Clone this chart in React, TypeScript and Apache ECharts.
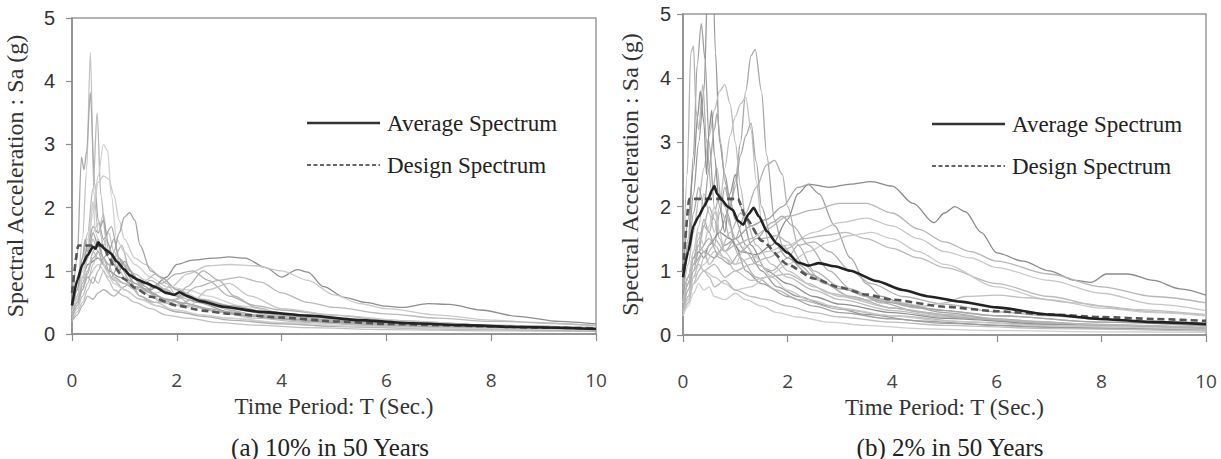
import React, { useEffect, useRef } from "react";
import * as echarts from "echarts";

// ---- (a) 10% in 50 years : individual ground-motion spectra [T (s), Sa (g)] ----
const recordsA: number[][][] = [
  [[0,0.3],[0.1,0.7],[0.2,1.5],[0.28,2.6],[0.35,4.45],[0.42,2.2],[0.5,1.6],[0.6,1.9],[0.7,1.3],[0.85,1.1],[1.0,0.9],[1.3,0.6],[1.6,0.5],[2.0,0.35],[2.5,0.3],[3,0.25],[4,0.17],[5,0.12],[6,0.1],[8,0.07],[10,0.05]],
  [[0,0.4],[0.1,1.2],[0.18,2.8],[0.23,2.6],[0.28,2.9],[0.35,3.82],[0.43,2.4],[0.5,1.8],[0.6,1.5],[0.75,1.7],[0.9,1.2],[1.1,1.0],[1.4,0.7],[1.8,0.55],[2.2,0.45],[2.8,0.35],[3.5,0.28],[4.5,0.2],[6,0.14],[8,0.1],[10,0.07]],
  [[0,0.35],[0.1,0.8],[0.2,1.2],[0.3,1.6],[0.4,2.3],[0.48,3.5],[0.55,2.2],[0.65,1.5],[0.8,1.2],[0.95,1.4],[1.1,1.0],[1.3,0.8],[1.6,0.75],[2.0,0.6],[2.4,0.5],[3,0.4],[4,0.28],[5,0.2],[6.5,0.14],[8,0.1],[10,0.08]],
  [[0,0.45],[0.1,0.9],[0.2,1.1],[0.3,1.5],[0.4,2.0],[0.5,2.5],[0.6,3.0],[0.68,2.9],[0.75,2.2],[0.85,1.5],[1.0,1.3],[1.2,1.1],[1.5,0.9],[1.8,0.75],[2.2,0.7],[2.6,0.6],[3.2,0.45],[4,0.32],[5,0.24],[6.5,0.16],[8,0.12],[10,0.09]],
  [[0,0.4],[0.1,0.7],[0.2,1.0],[0.3,1.4],[0.4,1.9],[0.5,2.4],[0.6,2.5],[0.7,2.45],[0.8,2.2],[0.9,1.8],[1.0,1.5],[1.2,1.2],[1.4,1.1],[1.7,0.9],[2.0,0.7],[2.5,0.55],[3,0.45],[4,0.3],[5,0.22],[7,0.14],[10,0.08]],
  [[0,0.3],[0.1,0.5],[0.2,0.8],[0.3,1.0],[0.4,1.2],[0.5,1.3],[0.6,1.1],[0.7,1.0],[0.8,1.3],[0.9,1.6],[1.0,1.85],[1.1,1.92],[1.2,1.8],[1.3,1.4],[1.5,1.0],[1.7,0.9],[2.0,0.7],[2.4,0.55],[3,0.45],[4,0.3],[5,0.22],[7,0.14],[10,0.09]],
  [[0,0.35],[0.1,0.6],[0.2,0.9],[0.3,1.1],[0.5,1.2],[0.7,1.0],[0.9,0.9],[1.2,0.75],[1.5,0.7],[1.8,0.9],[2.0,1.1],[2.3,1.17],[2.7,1.2],[3.0,1.22],[3.3,1.2],[3.7,1.05],[4.0,0.9],[4.3,1.02],[4.5,0.98],[4.8,0.75],[5.2,0.58],[5.6,0.5],[6.0,0.44],[6.3,0.42],[6.8,0.48],[7.2,0.47],[7.8,0.38],[8.5,0.28],[9.3,0.2],[10,0.16]],
  [[0,0.3],[0.1,0.5],[0.2,0.7],[0.3,0.9],[0.5,1.1],[0.7,0.9],[1.0,0.8],[1.3,0.7],[1.6,0.65],[1.9,0.75],[2.2,0.95],[2.6,1.08],[3.0,1.1],[3.5,1.08],[4.0,1.0],[4.5,0.85],[5.0,0.62],[5.5,0.48],[6,0.4],[7,0.3],[8,0.22],[9,0.17],[10,0.13]],
  [[0,0.3],[0.1,0.6],[0.2,0.9],[0.3,1.2],[0.4,1.5],[0.5,1.3],[0.7,1.1],[0.9,1.2],[1.1,0.95],[1.4,0.7],[1.7,0.8],[2.0,0.95],[2.3,1.0],[2.6,0.85],[3.0,0.6],[3.5,0.45],[4,0.38],[5,0.3],[6,0.22],[8,0.14],[10,0.1]],
  [[0,0.25],[0.1,0.4],[0.2,0.6],[0.3,0.8],[0.4,1.1],[0.5,1.3],[0.6,1.5],[0.7,1.2],[0.85,1.05],[1.0,1.1],[1.2,0.95],[1.4,0.85],[1.6,0.95],[1.8,0.8],[2.0,0.6],[2.3,0.45],[2.8,0.35],[3.5,0.25],[4.5,0.18],[6,0.12],[8,0.08],[10,0.06]],
  [[0,0.2],[0.1,0.35],[0.2,0.5],[0.3,0.7],[0.4,0.9],[0.5,0.8],[0.6,1.0],[0.7,0.85],[0.8,0.7],[1.0,0.6],[1.2,0.5],[1.5,0.4],[1.8,0.3],[2.2,0.25],[2.8,0.18],[3.5,0.14],[4.5,0.1],[6,0.07],[8,0.05],[10,0.04]],
  [[0,0.35],[0.1,0.7],[0.2,1.1],[0.3,1.4],[0.4,1.7],[0.5,1.6],[0.6,1.8],[0.7,1.4],[0.8,1.1],[0.9,1.0],[1.0,1.15],[1.2,0.9],[1.4,0.75],[1.6,0.6],[1.9,0.5],[2.1,0.62],[2.4,0.5],[3,0.35],[4,0.25],[5,0.18],[7,0.12],[10,0.07]],
  [[0,0.2],[0.1,0.3],[0.2,0.45],[0.3,0.6],[0.4,0.55],[0.5,0.65],[0.6,0.7],[0.8,0.6],[1.0,0.75],[1.2,0.9],[1.4,0.7],[1.7,0.5],[2.0,0.45],[2.3,0.55],[2.6,0.5],[3,0.38],[3.5,0.3],[4.5,0.22],[6,0.15],[8,0.1],[10,0.07]],
  [[0,0.3],[0.1,0.55],[0.2,0.85],[0.3,1.2],[0.4,1.6],[0.5,1.75],[0.6,1.4],[0.7,1.6],[0.8,1.3],[1.0,1.0],[1.2,0.8],[1.5,0.6],[1.8,0.5],[2.2,0.42],[2.6,0.7],[3.0,0.8],[3.4,0.6],[4,0.4],[5,0.3],[6.5,0.2],[8,0.14],[10,0.1]],
  [[0,0.25],[0.1,0.45],[0.2,0.7],[0.3,0.95],[0.4,1.3],[0.5,1.5],[0.6,1.2],[0.75,0.9],[0.9,1.1],[1.1,0.85],[1.3,0.6],[1.6,0.45],[2.0,0.35],[2.5,0.28],[3.0,0.22],[4,0.16],[5,0.12],[7,0.08],[10,0.05]],
  [[0,0.3],[0.1,0.5],[0.2,0.8],[0.3,1.0],[0.4,1.3],[0.5,1.2],[0.6,1.1],[0.8,0.85],[1.0,0.7],[1.3,0.55],[1.6,0.5],[2.0,0.55],[2.4,0.75],[2.8,0.85],[3.2,0.9],[3.6,0.82],[4.0,0.65],[4.5,0.5],[5,0.42],[6,0.32],[7,0.25],[8,0.2],[10,0.14]],
  [[0,0.35],[0.1,0.6],[0.2,0.9],[0.3,1.3],[0.35,1.8],[0.4,2.1],[0.45,1.6],[0.55,1.3],[0.65,1.0],[0.8,0.8],[1.0,0.7],[1.3,0.55],[1.6,0.45],[2.0,0.38],[2.5,0.3],[3,0.25],[4,0.18],[5.5,0.12],[7,0.09],[10,0.06]],
  [[0,0.4],[0.1,0.8],[0.2,1.2],[0.25,1.5],[0.3,1.3],[0.4,1.6],[0.5,1.4],[0.6,1.2],[0.7,1.3],[0.8,1.5],[0.9,1.2],[1.0,1.0],[1.2,0.8],[1.5,0.65],[1.8,0.55],[2.2,0.48],[2.6,0.4],[3.2,0.3],[4,0.24],[5,0.2],[6,0.18],[8,0.12],[10,0.09]],
  [[0,0.3],[0.1,0.5],[0.2,0.75],[0.3,0.9],[0.4,0.8],[0.5,1.0],[0.6,1.2],[0.7,1.1],[0.8,0.9],[1.0,0.8],[1.2,0.7],[1.5,0.85],[1.8,0.7],[2.0,0.6],[2.2,0.75],[2.5,1.0],[2.8,0.85],[3.1,0.6],[3.5,0.42],[4,0.33],[5,0.25],[6,0.2],[8,0.13],[10,0.09]],
];
const shadesA = ["#c4c4c4","#a9a9a9","#b8b8b8","#d2d2d2","#cccccc","#a4a4a4","#8e8e8e","#c8c8c8","#b0b0b0","#bdbdbd","#c0c0c0","#a0a0a0","#b4b4b4","#c6c6c6","#aeaeae","#bababa","#cfcfcf","#a6a6a6","#b2b2b2"];

const averageA = [[0,0.45],[0.1,0.85],[0.2,1.1],[0.3,1.25],[0.4,1.38],[0.45,1.35],[0.5,1.45],[0.55,1.4],[0.65,1.33],[0.75,1.27],[0.85,1.15],[1.0,1.02],[1.1,0.93],[1.25,0.86],[1.4,0.81],[1.6,0.74],[1.8,0.65],[1.95,0.62],[2.05,0.66],[2.2,0.6],[2.45,0.52],[2.9,0.43],[3.6,0.35],[4.5,0.29],[5.5,0.22],[6.5,0.17],[7.5,0.14],[8.5,0.11],[10,0.08]];
const designA = [[0,0.65],[0.12,1.4],[0.6,1.4],[0.7,1.22],[0.8,1.07],[1.0,0.87],[1.2,0.73],[1.5,0.59],[2.0,0.45],[2.5,0.37],[3.0,0.32],[4.0,0.26],[5.0,0.2],[6.0,0.16],[7.0,0.14],[8.0,0.12],[9.0,0.1],[10,0.09]];

// ---- (b) 2% in 50 years ----
const recordsB: number[][][] = [
  [[0,0.6],[0.1,1.5],[0.2,2.8],[0.27,4.2],[0.35,4.85],[0.42,4.3],[0.5,3.0],[0.6,2.0],[0.7,1.6],[0.85,1.9],[1.0,1.4],[1.2,1.0],[1.5,0.8],[2.0,0.6],[2.5,0.45],[3,0.35],[4,0.25],[5,0.18],[7,0.12],[10,0.08]],
  [[0,0.7],[0.1,1.4],[0.2,2.2],[0.3,3.0],[0.4,3.8],[0.48,5.6],[0.55,6.5],[0.62,4.4],[0.7,3.0],[0.8,2.5],[0.9,2.1],[1.0,1.8],[1.2,1.4],[1.5,1.0],[1.8,0.75],[2.2,0.6],[2.8,0.45],[3.5,0.32],[4.5,0.22],[6,0.15],[8,0.1],[10,0.08]],
  [[0,0.8],[0.08,2.5],[0.15,4.4],[0.2,4.5],[0.25,3.5],[0.3,3.2],[0.38,3.9],[0.45,3.0],[0.55,2.2],[0.65,2.6],[0.75,1.9],[0.9,1.5],[1.1,1.2],[1.4,0.9],[1.8,0.7],[2.2,0.55],[3,0.4],[4,0.3],[5.5,0.2],[7.5,0.14],[10,0.1]],
  [[0,0.5],[0.1,0.9],[0.2,1.2],[0.3,1.4],[0.4,1.8],[0.5,1.6],[0.6,1.4],[0.7,1.9],[0.8,2.3],[0.9,2.0],[1.0,2.4],[1.1,3.0],[1.2,3.8],[1.3,4.35],[1.38,4.45],[1.5,3.8],[1.6,2.8],[1.75,1.8],[1.9,1.4],[2.2,1.1],[2.6,0.85],[3.2,0.6],[4,0.42],[5,0.3],[6.5,0.2],[8,0.15],[10,0.11]],
  [[0,0.6],[0.1,1.1],[0.2,1.6],[0.3,2.1],[0.4,2.6],[0.5,3.1],[0.6,3.5],[0.7,3.8],[0.8,3.9],[0.9,3.6],[1.0,3.0],[1.1,2.3],[1.2,1.8],[1.4,1.4],[1.7,1.1],[2.0,0.9],[2.5,0.7],[3,0.55],[4,0.38],[5,0.28],[7,0.17],[10,0.11]],
  [[0,0.5],[0.1,0.9],[0.2,1.3],[0.3,1.7],[0.4,2.2],[0.5,1.9],[0.6,1.6],[0.7,2.0],[0.8,2.6],[0.9,3.1],[1.0,3.4],[1.1,3.6],[1.2,3.7],[1.3,3.2],[1.4,2.4],[1.5,1.8],[1.7,1.3],[2.0,1.0],[2.5,0.75],[3,0.6],[4,0.42],[5,0.3],[6.5,0.2],[8,0.14],[10,0.1]],
  [[0,0.9],[0.1,1.8],[0.2,2.6],[0.28,3.4],[0.33,3.8],[0.4,3.3],[0.45,2.5],[0.5,3.2],[0.55,3.5],[0.6,2.8],[0.7,2.0],[0.8,1.6],[0.9,2.2],[1.0,2.5],[1.1,2.0],[1.3,1.4],[1.6,1.0],[2.0,0.8],[2.5,0.6],[3,0.48],[4,0.35],[5,0.26],[7,0.17],[10,0.11]],
  [[0,0.5],[0.1,0.8],[0.2,1.1],[0.3,1.3],[0.4,1.7],[0.5,2.0],[0.6,1.8],[0.7,1.5],[0.8,1.3],[1.0,1.5],[1.2,1.9],[1.4,2.3],[1.6,2.65],[1.75,2.72],[1.9,2.5],[2.0,2.0],[2.2,1.4],[2.5,1.0],[3,0.75],[3.5,0.6],[4.5,0.42],[6,0.3],[8,0.2],[10,0.15]],
  [[0,0.6],[0.1,0.9],[0.2,1.2],[0.3,1.3],[0.4,1.2],[0.5,1.4],[0.7,1.6],[0.9,1.5],[1.1,1.3],[1.4,1.25],[1.7,1.4],[2.0,1.8],[2.2,2.2],[2.4,2.35],[2.8,2.3],[3.2,2.35],[3.6,2.39],[4.0,2.32],[4.4,2.05],[4.8,1.75],[5.0,1.9],[5.2,2.0],[5.4,1.92],[5.7,1.6],[6.0,1.28],[6.5,1.15],[7.0,1.0],[7.5,0.85],[7.8,0.82],[8.1,0.95],[8.5,0.95],[9.0,0.85],[9.5,0.72],[10,0.62]],
  [[0,0.5],[0.1,0.8],[0.2,1.1],[0.4,1.3],[0.6,1.2],[0.8,1.4],[1.0,1.5],[1.3,1.7],[1.6,1.8],[1.9,2.0],[2.2,2.3],[2.4,2.34],[2.6,2.2],[2.9,1.7],[3.2,1.2],[3.5,0.8],[3.8,0.6],[4.3,0.45],[5,0.35],[6,0.25],[7,0.2],[8,0.15],[10,0.1]],
  [[0,0.4],[0.1,0.7],[0.2,1.0],[0.4,1.3],[0.6,1.5],[0.8,1.3],[1.0,1.4],[1.3,1.5],[1.6,1.65],[2.0,1.85],[2.5,1.95],[3.0,2.05],[3.5,2.05],[4.0,1.9],[4.5,1.65],[5.0,1.45],[5.5,1.3],[6,1.15],[7,0.95],[8,0.75],[9,0.6],[10,0.5]],
  [[0,0.4],[0.1,0.6],[0.2,0.9],[0.4,1.1],[0.6,1.3],[0.8,1.2],[1.0,1.1],[1.3,1.2],[1.6,1.3],[2.0,1.4],[2.5,1.6],[3.0,1.75],[3.5,1.82],[4.0,1.7],[4.5,1.5],[5,1.3],[5.5,1.2],[6,1.05],[7,0.85],[8,0.65],[9,0.48],[10,0.38]],
  [[0,0.3],[0.1,0.5],[0.2,0.8],[0.4,1.0],[0.6,1.1],[0.8,0.9],[1.0,1.0],[1.3,1.1],[1.6,1.2],[2.0,1.35],[2.3,1.5],[2.7,1.55],[3.1,1.6],[3.5,1.5],[4,1.35],[4.5,1.2],[5,1.05],[6,0.8],[7,0.6],[8,0.45],[9,0.36],[10,0.3]],
  [[0,0.35],[0.1,0.55],[0.2,0.8],[0.4,1.0],[0.6,0.9],[0.8,0.8],[1.0,0.7],[1.3,0.75],[1.6,0.9],[2.0,1.1],[2.4,1.3],[2.8,1.45],[3.2,1.55],[3.6,1.6],[4.0,1.5],[4.5,1.3],[5,1.1],[6,0.75],[7,0.55],[8,0.42],[9,0.35],[10,0.3]],
  [[0,0.45],[0.1,0.8],[0.2,1.2],[0.3,1.5],[0.4,1.7],[0.5,1.6],[0.6,1.9],[0.7,2.2],[0.8,2.0],[0.9,1.7],[1.0,1.5],[1.2,1.3],[1.4,1.1],[1.7,1.0],[2.0,1.2],[2.2,1.4],[2.5,1.45],[2.8,1.3],[3.2,1.0],[3.6,0.8],[4.2,0.6],[5,0.48],[6,0.36],[7,0.3],[8,0.24],[10,0.18]],
  [[0,0.3],[0.1,0.5],[0.2,0.8],[0.3,1.0],[0.4,1.2],[0.6,1.4],[0.8,1.2],[1.0,1.0],[1.3,0.85],[1.6,0.9],[2.0,0.95],[2.4,0.8],[2.8,0.65],[3.4,0.55],[4,0.52],[4.6,0.45],[5.0,0.5],[5.4,0.6],[6.0,0.62],[6.6,0.58],[7.5,0.5],[8.5,0.4],[10,0.32]],
  [[0,0.35],[0.1,0.6],[0.2,0.9],[0.3,1.1],[0.4,1.0],[0.5,0.9],[0.6,0.75],[0.8,0.85],[1.0,0.7],[1.3,0.6],[1.6,0.55],[2.0,0.45],[2.5,0.35],[3,0.28],[4,0.2],[5,0.15],[7,0.1],[10,0.06]],
  [[0,0.5],[0.1,0.9],[0.2,1.3],[0.3,1.6],[0.4,1.4],[0.5,1.7],[0.6,2.0],[0.7,1.6],[0.8,1.3],[1.0,1.1],[1.2,1.4],[1.4,1.2],[1.7,0.9],[2.0,0.7],[2.4,0.55],[3,0.42],[4,0.3],[5,0.22],[7,0.14],[10,0.09]],
  [[0,0.4],[0.1,0.7],[0.2,1.0],[0.3,1.3],[0.5,1.5],[0.7,1.2],[0.9,1.1],[1.1,1.3],[1.4,1.5],[1.7,1.75],[1.9,1.85],[2.1,1.7],[2.4,1.4],[2.8,1.0],[3.2,0.72],[3.8,0.5],[4.5,0.36],[5.5,0.26],[7,0.18],[10,0.1]],
  [[0,0.5],[0.1,0.8],[0.2,1.1],[0.3,1.4],[0.4,1.3],[0.5,1.1],[0.7,1.3],[0.9,1.6],[1.1,1.9],[1.3,1.7],[1.5,1.5],[1.8,1.55],[2.0,1.45],[2.3,1.1],[2.7,0.8],[3.2,0.6],[4,0.42],[5,0.32],[6.5,0.22],[8,0.16],[10,0.12]],
  [[0,0.3],[0.1,0.45],[0.2,0.65],[0.3,0.8],[0.4,0.7],[0.5,0.75],[0.6,0.6],[0.8,0.55],[1.0,0.65],[1.2,0.55],[1.5,0.45],[1.8,0.35],[2.2,0.28],[2.8,0.2],[3.5,0.15],[4.5,0.1],[6,0.07],[8,0.05],[10,0.04]],
  [[0,0.7],[0.1,1.3],[0.2,1.9],[0.3,2.3],[0.4,2.0],[0.5,2.6],[0.6,3.2],[0.65,3.45],[0.72,3.0],[0.8,2.4],[0.9,2.0],[1.0,2.3],[1.1,2.8],[1.2,3.1],[1.3,3.3],[1.4,2.7],[1.5,2.0],[1.7,1.5],[2.0,1.2],[2.4,0.95],[3,0.72],[4,0.5],[5,0.38],[6,0.3],[8,0.2],[10,0.14]],
];
const shadesB = ["#a0a0a0","#9a9a9a","#b4b4b4","#a8a8a8","#bcbcbc","#c2c2c2","#8f8f8f","#b0b0b0","#8a8a8a","#a4a4a4","#b6b6b6","#c6c6c6","#bababa","#cacaca","#b2b2b2","#c0c0c0","#bdbdbd","#c8c8c8","#aeaeae","#b8b8b8","#cfcfcf","#a6a6a6"];

const averageB = [[0,0.9],[0.1,1.3],[0.2,1.7],[0.3,1.85],[0.4,2.0],[0.5,2.15],[0.55,2.25],[0.6,2.32],[0.65,2.2],[0.75,2.1],[0.85,2.0],[0.95,1.95],[1.05,1.78],[1.15,1.72],[1.25,1.88],[1.35,1.98],[1.45,1.85],[1.6,1.62],[1.8,1.42],[2.0,1.28],[2.2,1.13],[2.4,1.08],[2.6,1.12],[2.9,1.07],[3.2,1.0],[3.7,0.84],[4.2,0.7],[4.7,0.6],[5.3,0.52],[6.0,0.43],[7.0,0.32],[8.0,0.25],[9.0,0.2],[10,0.17]];
const designB = [[0,1.0],[0.12,2.12],[1.05,2.12],[1.2,1.83],[1.5,1.47],[2.0,1.1],[2.5,0.88],[3.0,0.74],[3.5,0.63],[4.0,0.55],[5.0,0.44],[6.0,0.37],[7.0,0.32],[8.0,0.28],[9.0,0.25],[10,0.22]];

const xTicks = { min: 0, max: 10, interval: 2 };
const yTicks = { min: 0, max: 5, interval: 1 };
const xTitle = "Time Period: T (Sec.)";
const yTitle = "Spectral Acceleration : Sa (g)";
const captions = ["(a) 10% in 50 Years", "(b) 2% in 50 Years"];
const legendNames = ["Average Spectrum", "Design Spectrum"];

const AXIS_GRAY = "#8c8c8c";
const SERIF = "Liberation Serif";

function xAxisFor(grid: number) {
  return {
    gridIndex: grid,
    type: "value",
    ...xTicks,
    axisLine: { show: true, lineStyle: { color: AXIS_GRAY, width: 1.5 } },
    axisTick: { show: true, inside: false, length: 7, lineStyle: { color: AXIS_GRAY, width: 1.2 } },
    splitLine: { show: false },
    axisLabel: { margin: 36, fontFamily: "Open Sans", fontSize: 19, color: "#444" },
    name: xTitle,
    nameLocation: "middle",
    nameGap: 61,
    nameTextStyle: { fontFamily: SERIF, fontSize: 23, color: "#333" },
  };
}

function yAxisFor(grid: number, labelMargin: number, nameGap: number) {
  return {
    gridIndex: grid,
    type: "value",
    ...yTicks,
    axisLine: { show: true, lineStyle: { color: AXIS_GRAY, width: 1.5 } },
    axisTick: { show: true, inside: false, length: 6, lineStyle: { color: AXIS_GRAY, width: 1.2 } },
    splitLine: { show: false },
    axisLabel: { margin: labelMargin, fontFamily: "Liberation Sans", fontSize: 20, color: "#333" },
    name: yTitle,
    nameLocation: "middle",
    nameGap,
    nameTextStyle: { fontFamily: SERIF, fontSize: 24, color: "#333" },
  };
}

function recordSeries(records: number[][][], shades: string[], grid: number) {
  return records.map((rec, i) => ({
    type: "line",
    xAxisIndex: grid,
    yAxisIndex: grid,
    data: rec,
    symbol: "none",
    smooth: 0.3,
    smoothMonotone: "x",
    silent: true,
    lineStyle: { color: shades[i % shades.length], width: 1.3 },
    z: 2,
  }));
}

function summarySeries(avg: number[][], design: number[][], grid: number) {
  return [
    {
      name: legendNames[1],
      type: "line",
      xAxisIndex: grid,
      yAxisIndex: grid,
      data: design,
      symbol: "none",
      smooth: 0.2,
      smoothMonotone: "x",
      lineStyle: { color: "#555", width: 2.6, type: [7, 4] },
      z: 3,
    },
    {
      name: legendNames[0],
      type: "line",
      xAxisIndex: grid,
      yAxisIndex: grid,
      data: avg,
      symbol: "none",
      smooth: 0.2,
      smoothMonotone: "x",
      lineStyle: { color: "#222", width: 2.6 },
      z: 4,
    },
  ];
}

function legendGraphic(x: number, y: number) {
  const textStyle = { fontFamily: SERIF, fontSize: 23, fill: "#222" };
  return [
    { type: "line", shape: { x1: x, y1: y, x2: x + 73, y2: y }, style: { stroke: "#333", lineWidth: 2.6 } },
    { type: "text", x: x + 80, y, style: { ...textStyle, text: legendNames[0], verticalAlign: "middle" } },
    { type: "line", shape: { x1: x, y1: y + 42, x2: x + 73, y2: y + 42 }, style: { stroke: "#666", lineWidth: 2, lineDash: [4, 2.5] } },
    { type: "text", x: x + 80, y: y + 42, style: { ...textStyle, text: legendNames[1], verticalAlign: "middle" } },
  ];
}

export default function App() {
  const ref = useRef<HTMLDivElement>(null);

  useEffect(() => {
    if (!ref.current) return;
    const chart = echarts.init(ref.current, undefined, { renderer: "svg" });
    const gridStyle = { show: true, borderColor: "#9a9a9a", borderWidth: 1.5, backgroundColor: "transparent" };
    chart.setOption({
      animation: false,
      backgroundColor: "#ffffff",
      grid: [
        { left: 72, top: 18, width: 524, height: 316, ...gridStyle },
        { left: 683, top: 14, width: 523, height: 321, ...gridStyle },
      ],
      xAxis: [xAxisFor(0), xAxisFor(1)],
      yAxis: [yAxisFor(0, 17, 45), yAxisFor(1, 12, 41)],
      series: [
        ...recordSeries(recordsA, shadesA, 0),
        ...summarySeries(averageA, designA, 0),
        ...recordSeries(recordsB, shadesB, 1),
        ...summarySeries(averageB, designB, 1),
      ],
      graphic: [
        ...legendGraphic(307, 123),
        ...legendGraphic(932, 124),
        {
          type: "text", x: 330, y: 447,
          style: { text: captions[0], fontFamily: SERIF, fontSize: 25, fill: "#222", align: "center", verticalAlign: "middle" },
        },
        {
          type: "text", x: 950, y: 447,
          style: { text: captions[1], fontFamily: SERIF, fontSize: 25, fill: "#222", align: "center", verticalAlign: "middle" },
        },
      ],
    });
    return () => chart.dispose();
  }, []);

  return (
    <div
      ref={ref}
      style={{ position: "absolute", left: 0, top: 0, width: 1221, height: 459, background: "#fff" }}
    />
  );
}
